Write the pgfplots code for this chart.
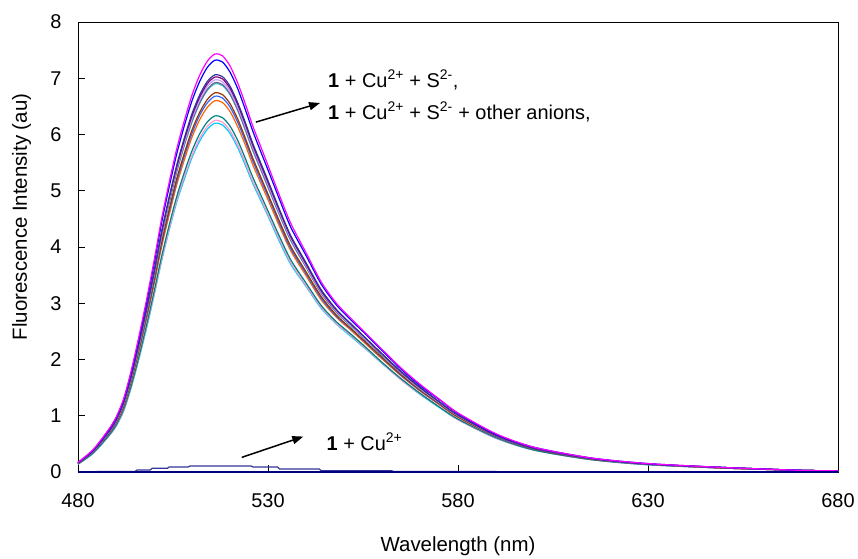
\documentclass[border=0pt]{standalone}
\usepackage{fontspec}
\setmainfont{Liberation Sans}
\usepackage{pgfplots}
\pgfplotsset{compat=1.18}
\usepackage{pgfplotstable}
\usetikzlibrary{arrows.meta}

\definecolor{cmag}{HTML}{FF00FF}
\definecolor{cblu}{HTML}{0000FF}
\definecolor{cind}{HTML}{333399}
\definecolor{cpur}{HTML}{800080}
\definecolor{clav}{HTML}{CC99FF}
\definecolor{cbgr}{HTML}{666699}
\definecolor{caqu}{HTML}{33CCCC}
\definecolor{cbrn}{HTML}{993300}
\definecolor{croy}{HTML}{3366FF}
\definecolor{corg}{HTML}{FF6600}
\definecolor{ctea}{HTML}{008080}
\definecolor{cros}{HTML}{FF99CC}
\definecolor{csky}{HTML}{00CCFF}
\definecolor{cnav}{HTML}{000080}

% emission spectra, 1 + Cu2+ + S2- (+ other anions)
\pgfplotstableread{
x   a    b    c    d    e    f    g    h    i    j    k    l    m
480 0.17 0.17 0.16 0.16 0.16 0.16 0.16 0.15 0.15 0.15 0.14 0.14 0.14
484 0.40 0.39 0.38 0.38 0.38 0.37 0.37 0.36 0.36 0.36 0.34 0.34 0.33
488 0.75 0.74 0.71 0.71 0.70 0.70 0.70 0.68 0.67 0.67 0.64 0.63 0.63
490 0.97 0.96 0.92 0.92 0.91 0.90 0.90 0.88 0.87 0.86 0.83 0.82 0.81
492 1.30 1.28 1.24 1.23 1.22 1.21 1.21 1.18 1.17 1.15 1.11 1.09 1.08
494 1.80 1.77 1.71 1.70 1.69 1.68 1.67 1.63 1.62 1.60 1.53 1.51 1.50
496 2.40 2.36 2.28 2.27 2.25 2.23 2.23 2.18 2.16 2.13 2.04 2.02 2.00
498 3.05 3.00 2.90 2.88 2.86 2.84 2.83 2.77 2.74 2.71 2.60 2.57 2.54
500 3.75 3.69 3.56 3.54 3.52 3.49 3.48 3.40 3.37 3.33 3.20 3.15 3.13
502 4.50 4.43 4.28 4.25 4.22 4.19 4.18 4.08 4.05 4.00 3.83 3.78 3.75
504 5.15 5.07 4.89 4.87 4.83 4.79 4.78 4.67 4.63 4.57 4.39 4.33 4.30
506 5.75 5.66 5.46 5.43 5.39 5.35 5.34 5.22 5.17 5.11 4.90 4.84 4.80
508 6.25 6.16 5.94 5.91 5.86 5.82 5.81 5.67 5.62 5.55 5.33 5.26 5.21
510 6.70 6.60 6.37 6.33 6.28 6.24 6.22 6.08 6.02 5.95 5.71 5.63 5.59
512 7.05 6.94 6.70 6.66 6.61 6.56 6.55 6.39 6.34 6.26 6.01 5.93 5.88
514 7.30 7.19 6.94 6.90 6.85 6.80 6.78 6.62 6.56 6.48 6.22 6.14 6.09
516 7.43 7.32 7.06 7.02 6.97 6.92 6.90 6.74 6.68 6.60 6.33 6.25 6.20
518 7.40 7.29 7.03 6.99 6.94 6.89 6.87 6.71 6.65 6.57 6.30 6.22 6.17
520 7.22 7.11 6.86 6.82 6.77 6.72 6.71 6.55 6.49 6.41 6.15 6.07 6.02
522 6.92 6.82 6.57 6.54 6.49 6.44 6.43 6.28 6.22 6.14 5.90 5.82 5.77
524 6.55 6.45 6.22 6.19 6.14 6.10 6.08 5.94 5.89 5.82 5.58 5.51 5.46
526 6.15 6.06 5.84 5.81 5.77 5.73 5.71 5.58 5.53 5.46 5.24 5.17 5.13
528 5.80 5.71 5.51 5.48 5.44 5.40 5.39 5.26 5.21 5.15 4.94 4.88 4.84
530 5.45 5.37 5.18 5.15 5.11 5.07 5.06 4.94 4.90 4.84 4.64 4.58 4.55
533 4.92 4.85 4.67 4.65 4.61 4.58 4.57 4.46 4.42 4.37 4.19 4.14 4.10
536 4.42 4.35 4.20 4.18 4.15 4.12 4.11 4.01 3.97 3.93 3.77 3.72 3.69
540 3.90 3.85 3.72 3.70 3.67 3.65 3.64 3.56 3.53 3.49 3.36 3.32 3.30
544 3.38 3.34 3.24 3.22 3.20 3.18 3.18 3.12 3.09 3.06 2.96 2.93 2.91
548 3.00 2.97 2.89 2.88 2.86 2.84 2.84 2.79 2.77 2.75 2.67 2.64 2.63
552 2.72 2.69 2.62 2.62 2.60 2.59 2.58 2.54 2.53 2.51 2.44 2.42 2.40
556 2.45 2.43 2.36 2.36 2.34 2.33 2.33 2.29 2.28 2.26 2.20 2.18 2.17
560 2.18 2.16 2.10 2.10 2.09 2.08 2.07 2.04 2.03 2.01 1.95 1.94 1.93
565 1.85 1.83 1.79 1.78 1.77 1.76 1.76 1.73 1.72 1.71 1.66 1.64 1.64
570 1.56 1.54 1.51 1.50 1.49 1.49 1.48 1.46 1.45 1.44 1.40 1.39 1.38
575 1.30 1.29 1.25 1.25 1.24 1.24 1.24 1.22 1.21 1.20 1.16 1.16 1.15
580 1.05 1.04 1.01 1.01 1.00 1.00 1.00 0.98 0.98 0.97 0.94 0.93 0.93
590 0.68 0.67 0.66 0.65 0.65 0.65 0.65 0.64 0.63 0.63 0.61 0.60 0.60
600 0.44 0.44 0.42 0.42 0.42 0.42 0.42 0.41 0.41 0.41 0.39 0.39 0.39
615 0.25 0.25 0.24 0.24 0.24 0.24 0.24 0.23 0.23 0.23 0.22 0.22 0.22
630 0.15 0.15 0.14 0.14 0.14 0.14 0.14 0.14 0.14 0.14 0.13 0.13 0.13
650 0.08 0.08 0.08 0.08 0.08 0.08 0.08 0.07 0.07 0.07 0.07 0.07 0.07
670 0.03 0.03 0.03 0.03 0.03 0.03 0.03 0.03 0.03 0.03 0.03 0.03 0.03
680 0.02 0.02 0.02 0.02 0.02 0.02 0.02 0.02 0.02 0.02 0.02 0.02 0.02
}\spectra

\begin{document}
\begin{tikzpicture}
\useasboundingbox (0,0) rectangle (858bp,559bp);
\begin{axis}[
  at={(78bp,87bp)}, anchor=south west,
  width=760bp, height=450bp, scale only axis,
  xmin=480, xmax=680, ymin=0, ymax=8,
  xtick={480,530,580,630,680},
  ytick={0,1,2,3,4,5,6,7,8},
  tick align=inside, major tick length=7bp,
  xtick pos=bottom, ytick pos=left,
  axis line style={line width=0.9bp},
  tick style={line width=0.9bp, black},
  ticklabel style={font=\fontsize{20}{24}\selectfont},
  /pgf/number format/assume math mode=true,
  yticklabel style={xshift=-13bp},
  xticklabel style={yshift=-18bp},
  xlabel={Wavelength (nm)},
  ylabel={Fluorescence Intensity (au)},
  label style={font=\fontsize{20.5}{24}\selectfont},
  xlabel style={at={(axis description cs:0.5,-0.1644)}, anchor=center},
  ylabel style={at={(axis description cs:-0.0741,0.567)}, anchor=center},
  clip=false,
  every axis plot/.append style={line width=1.2bp, smooth, tension=0.45},
]
\addplot[no marks, csky] table[x=x, y=m] {\spectra};
\addplot[no marks, cros] table[x=x, y=l] {\spectra};
\addplot[no marks, ctea] table[x=x, y=k] {\spectra};
\addplot[no marks, corg] table[x=x, y=j] {\spectra};
\addplot[no marks, croy] table[x=x, y=i] {\spectra};
\addplot[no marks, cbrn] table[x=x, y=h] {\spectra};
\addplot[no marks, caqu] table[x=x, y=g] {\spectra};
\addplot[no marks, cbgr] table[x=x, y=f] {\spectra};
\addplot[no marks, clav] table[x=x, y=e] {\spectra};
\addplot[no marks, cpur] table[x=x, y=d] {\spectra};
\addplot[no marks, cind] table[x=x, y=c] {\spectra};
\addplot[no marks, cblu] table[x=x, y=b] {\spectra};
\addplot[no marks, cmag] table[x=x, y=a] {\spectra};

% 1 + Cu2+ (quenched)
\addplot[no marks, cind, sharp plot] coordinates {
  (480,0.00) (487,0.01) (495,0.01) (495.5,0.035) (499,0.035) (499.5,0.065)
  (503.5,0.065) (504,0.09) (509,0.09) (509.5,0.107) (525.5,0.107) (526,0.09)
  (532.5,0.09) (533,0.053) (543.5,0.053) (544,0.024) (562.5,0.024) (563,0.01)
  (590,0.01) (590.5,0.00) (680,0.00)
};
\addplot[no marks, cnav, sharp plot, line width=2bp] coordinates {(480,0) (680,0)};

\draw[-{Triangle[length=11bp,width=8bp]}, line width=1.5bp]
  (axis cs:526.8,6.22) -- (axis cs:543.7,6.56);
\draw[-{Triangle[length=11bp,width=8bp]}, line width=1.5bp]
  (axis cs:523.1,0.26) -- (axis cs:539.3,0.63);

\node[anchor=west, inner sep=0pt, font=\fontsize{20}{24}\selectfont]
  at (axis cs:545.8,6.97) {\textbf{1} + Cu\textsuperscript{2+} + S\textsuperscript{2-},};
\node[anchor=west, inner sep=0pt, font=\fontsize{20}{24}\selectfont]
  at (axis cs:545.8,6.40) {\textbf{1} + Cu\textsuperscript{2+} + S\textsuperscript{2-} + other anions,};
\node[anchor=west, inner sep=0pt, font=\fontsize{20}{24}\selectfont]
  at (axis cs:545.4,0.54) {\textbf{1} + Cu\textsuperscript{2+}};
\end{axis}
\end{tikzpicture}
\end{document}
